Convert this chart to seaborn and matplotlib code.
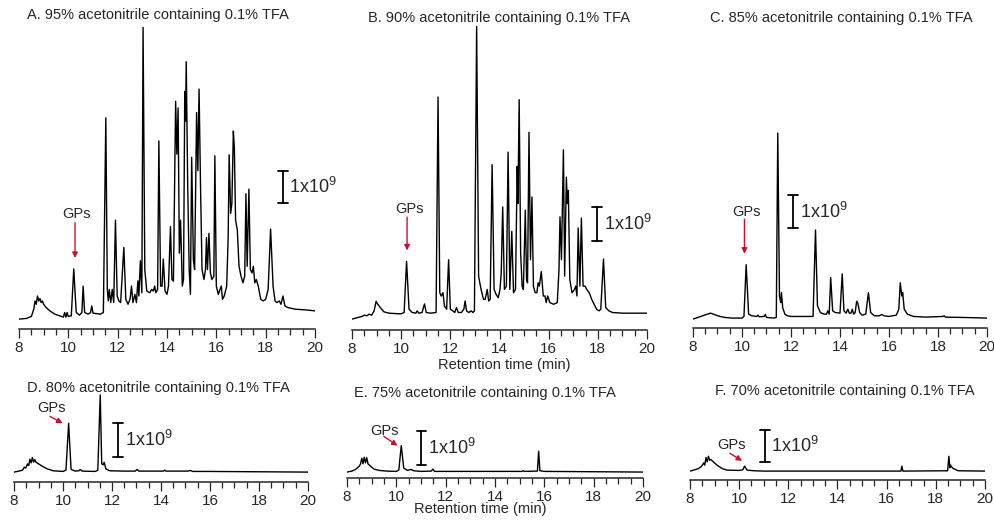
import numpy as np
import pandas as pd
import matplotlib
matplotlib.use("Agg")
import matplotlib.pyplot as plt
from matplotlib.ticker import MultipleLocator
import seaborn as sns

# Chromatogram traces: (retention time in min, intensity in units of 1e9)
a_trace = [
    (8.0, 0.0), (8.3, 0.02), (8.5, 0.08), (8.6, 0.3), (8.65, 0.55), (8.7, 0.45), (8.75, 0.7),
    (8.8, 0.55), (8.85, 0.62), (8.9, 0.5), (8.95, 0.55), (9.0, 0.45), (9.1, 0.35), (9.25, 0.25),
    (9.45, 0.15), (9.65, 0.1), (9.8, 0.06), (9.85, 0.2), (9.9, 0.06), (9.95, 0.2), (10.0, 0.08),
    (10.12, 0.1), (10.22, 1.52), (10.32, 0.2), (10.45, 0.12), (10.55, 0.2), (10.6, 1.0),
    (10.66, 0.2), (10.8, 0.15), (10.9, 0.2), (10.95, 0.4), (11.0, 0.18), (11.3, 0.15),
    (11.42, 0.2), (11.52, 6.1), (11.58, 0.9), (11.62, 0.55), (11.66, 0.9), (11.72, 0.5),
    (11.78, 0.9), (11.84, 0.5), (11.91, 3.0), (11.98, 0.7), (12.05, 0.55), (12.12, 0.5),
    (12.25, 2.17), (12.33, 0.6), (12.42, 0.45), (12.5, 0.6), (12.56, 1.0), (12.62, 0.5),
    (12.7, 0.75), (12.76, 0.5), (12.82, 1.16), (12.86, 0.7), (12.92, 1.77), (12.98, 0.8),
    (13.03, 8.84), (13.1, 1.5), (13.18, 0.85), (13.3, 0.8), (13.38, 0.9), (13.45, 0.85),
    (13.5, 1.0), (13.55, 0.8), (13.62, 0.9), (13.67, 5.4), (13.74, 1.0), (13.8, 1.0),
    (13.85, 1.82), (13.92, 0.85), (14.0, 0.75), (14.06, 1.0), (14.14, 2.8), (14.2, 1.2),
    (14.26, 1.15), (14.35, 6.6), (14.4, 5.0), (14.45, 6.4), (14.5, 2.0), (14.55, 3.0),
    (14.62, 1.0), (14.67, 1.2), (14.72, 6.9), (14.75, 6.0), (14.78, 7.8), (14.84, 4.0),
    (14.9, 1.5), (14.95, 0.75), (15.0, 4.9), (15.07, 1.8), (15.12, 1.5), (15.2, 6.26),
    (15.25, 4.5), (15.3, 6.97), (15.36, 4.0), (15.42, 1.5), (15.5, 1.2), (15.56, 1.5),
    (15.6, 2.47), (15.64, 1.5), (15.7, 2.6), (15.76, 1.4), (15.82, 1.2), (15.9, 1.3),
    (15.94, 4.95), (16.0, 1.0), (16.08, 0.75), (16.15, 0.9), (16.2, 1.0), (16.25, 0.6),
    (16.32, 0.7), (16.42, 1.0), (16.48, 2.5), (16.52, 4.98), (16.58, 3.2), (16.63, 3.5),
    (16.69, 5.7), (16.73, 5.2), (16.78, 3.0), (16.85, 2.7), (16.92, 1.6), (17.0, 1.3),
    (17.08, 1.1), (17.15, 1.3), (17.2, 3.8), (17.25, 1.6), (17.32, 3.94), (17.38, 1.5),
    (17.45, 1.4), (17.5, 1.6), (17.56, 1.1), (17.62, 1.2), (17.7, 1.0), (17.8, 0.6),
    (17.9, 0.55), (18.0, 0.6), (18.1, 0.9), (18.2, 2.73), (18.3, 1.0), (18.38, 0.55),
    (18.45, 0.5), (18.55, 0.55), (18.62, 0.45), (18.7, 0.7), (18.78, 0.4), (18.9, 0.35),
    (19.2, 0.3), (19.6, 0.28), (20.0, 0.25),
]

b_trace = [
    (8.0, 0.0), (8.2, 0.04), (8.4, 0.08), (8.5, 0.12), (8.6, 0.1), (8.7, 0.15), (8.8, 0.12),
    (8.9, 0.25), (8.98, 0.54), (9.05, 0.45), (9.15, 0.35), (9.3, 0.22), (9.5, 0.18), (9.7, 0.17),
    (10.0, 0.16), (10.12, 0.2), (10.22, 1.75), (10.32, 0.3), (10.45, 0.2), (10.6, 0.18),
    (10.65, 0.25), (10.72, 0.18), (10.85, 0.2), (10.95, 0.46), (11.02, 0.2), (11.2, 0.18),
    (11.42, 0.2), (11.5, 6.73), (11.57, 0.8), (11.63, 0.7), (11.7, 0.8), (11.76, 0.4),
    (11.85, 0.3), (11.93, 1.8), (12.0, 0.3), (12.1, 0.25), (12.18, 0.2), (12.25, 0.35),
    (12.32, 0.2), (12.45, 0.2), (12.55, 0.3), (12.6, 0.55), (12.66, 0.25), (12.75, 0.2),
    (12.85, 0.25), (12.92, 0.2), (12.98, 0.25), (13.07, 8.87), (13.15, 1.3), (13.25, 0.9),
    (13.35, 0.6), (13.42, 0.6), (13.5, 0.9), (13.56, 0.55), (13.62, 0.6), (13.7, 4.68),
    (13.78, 0.9), (13.86, 0.75), (13.95, 0.65), (14.02, 0.9), (14.07, 1.4), (14.13, 3.4),
    (14.2, 0.9), (14.28, 1.0), (14.35, 5.06), (14.42, 0.9), (14.5, 2.66), (14.57, 0.8),
    (14.65, 0.9), (14.72, 4.63), (14.75, 3.5), (14.8, 6.65), (14.86, 2.0), (14.92, 1.0),
    (14.97, 0.9), (15.05, 3.3), (15.1, 1.2), (15.14, 1.1), (15.2, 5.66), (15.26, 1.8),
    (15.32, 3.7), (15.38, 1.0), (15.45, 0.8), (15.52, 0.8), (15.57, 1.1), (15.62, 1.0),
    (15.7, 1.44), (15.78, 0.7), (15.85, 0.7), (15.9, 0.5), (15.96, 0.7), (16.05, 0.5),
    (16.2, 0.45), (16.35, 0.5), (16.42, 1.5), (16.46, 3.1), (16.52, 1.8), (16.6, 5.13),
    (16.65, 1.3), (16.72, 4.3), (16.76, 3.5), (16.8, 3.9), (16.86, 1.2), (16.95, 0.8),
    (17.05, 0.9), (17.1, 1.0), (17.15, 0.7), (17.2, 2.76), (17.27, 1.0), (17.33, 3.06),
    (17.4, 1.0), (17.48, 1.0), (17.55, 0.9), (17.65, 0.8), (17.75, 0.6), (17.85, 0.45),
    (17.95, 0.3), (18.05, 0.25), (18.12, 0.3), (18.23, 1.82), (18.32, 0.35), (18.45, 0.25),
    (18.6, 0.2), (19.0, 0.18), (19.5, 0.18), (20.0, 0.18),
]

c_trace = [
    (8.0, 0.0), (8.2, 0.05), (8.4, 0.1), (8.5, 0.13), (8.6, 0.15), (8.7, 0.18), (8.8, 0.16),
    (8.9, 0.13), (9.1, 0.08), (9.3, 0.05), (9.6, 0.03), (10.0, 0.03), (10.08, 0.08),
    (10.17, 1.65), (10.27, 0.15), (10.4, 0.1), (10.6, 0.08), (10.65, 0.12), (10.7, 0.07),
    (10.9, 0.08), (10.95, 0.14), (11.0, 0.05), (11.3, 0.03), (11.4, 0.05), (11.46, 5.64),
    (11.53, 0.7), (11.58, 0.5), (11.61, 0.8), (11.66, 0.35), (11.75, 0.15), (11.85, 0.1),
    (12.0, 0.08), (12.5, 0.08), (12.9, 0.08), (13.0, 2.7), (13.08, 0.4), (13.2, 0.2),
    (13.35, 0.15), (13.45, 0.15), (13.5, 0.25), (13.56, 0.15), (13.62, 1.26), (13.7, 0.25),
    (13.8, 0.2), (14.0, 0.18), (14.09, 1.37), (14.16, 0.25), (14.25, 0.18), (14.32, 0.3),
    (14.38, 0.18), (14.45, 0.18), (14.5, 0.3), (14.56, 0.15), (14.62, 0.2), (14.68, 0.54),
    (14.73, 0.48), (14.8, 0.2), (14.9, 0.12), (15.05, 0.15), (15.16, 0.8), (15.25, 0.2),
    (15.4, 0.1), (15.6, 0.1), (15.7, 0.14), (15.8, 0.1), (16.0, 0.08), (16.3, 0.12),
    (16.4, 0.3), (16.46, 1.1), (16.52, 0.7), (16.56, 0.8), (16.62, 0.3), (16.75, 0.15),
    (17.0, 0.08), (17.5, 0.06), (18.2, 0.08), (18.25, 0.1), (18.3, 0.06), (19.0, 0.05),
    (20.0, 0.03),
]

d_trace = [
    (8.0, 0.0), (8.2, 0.03), (8.35, 0.06), (8.42, 0.15), (8.48, 0.12), (8.55, 0.25), (8.6, 0.2),
    (8.65, 0.39), (8.7, 0.28), (8.75, 0.44), (8.8, 0.3), (8.85, 0.38), (8.9, 0.3), (9.0, 0.25),
    (9.15, 0.18), (9.35, 0.1), (9.6, 0.04), (10.0, 0.02), (10.12, 0.06), (10.23, 1.48),
    (10.33, 0.08), (10.5, 0.03), (10.65, 0.04), (10.7, 0.08), (10.78, 0.03), (11.3, 0.02),
    (11.42, 0.05), (11.52, 2.34), (11.58, 0.25), (11.64, 0.22), (11.68, 0.3), (11.75, 0.1),
    (11.9, 0.04), (12.5, 0.03), (12.95, 0.03), (13.02, 0.08), (13.1, 0.03), (14.1, 0.03),
    (14.15, 0.06), (14.2, 0.03), (15.1, 0.03), (15.18, 0.05), (15.3, 0.02), (16.0, 0.02),
    (20.0, 0.0),
]

e_trace = [
    (8.0, 0.0), (8.2, 0.03), (8.35, 0.08), (8.45, 0.15), (8.5, 0.18), (8.55, 0.25), (8.6, 0.42),
    (8.65, 0.25), (8.7, 0.45), (8.75, 0.28), (8.8, 0.44), (8.85, 0.25), (8.95, 0.18),
    (9.1, 0.09), (9.3, 0.05), (9.6, 0.03), (10.0, 0.02), (10.1, 0.06), (10.2, 0.8),
    (10.3, 0.12), (10.45, 0.05), (10.6, 0.08), (10.7, 0.04), (11.0, 0.02), (11.42, 0.03),
    (11.48, 0.09), (11.55, 0.02), (13.0, 0.02), (15.1, 0.02), (15.14, 0.04), (15.2, 0.02),
    (15.72, 0.03), (15.77, 0.63), (15.82, 0.04), (16.0, 0.02), (20.0, 0.0),
]

f_trace = [
    (8.0, 0.0), (8.2, 0.04), (8.35, 0.08), (8.45, 0.13), (8.52, 0.2), (8.56, 0.25), (8.6, 0.18),
    (8.65, 0.41), (8.7, 0.28), (8.75, 0.45), (8.8, 0.33), (8.85, 0.35), (8.95, 0.28),
    (9.1, 0.18), (9.3, 0.08), (9.5, 0.03), (10.0, 0.02), (10.15, 0.04), (10.22, 0.15),
    (10.32, 0.03), (10.6, 0.01), (11.0, 0.0), (16.58, 0.0), (16.62, 0.15), (16.66, 0.0),
    (18.48, 0.01), (18.53, 0.45), (18.57, 0.1), (18.6, 0.18), (18.65, 0.12), (18.7, 0.08),
    (18.8, 0.05), (18.9, 0.01), (20.0, 0.0),
]

titles = [
    "A. 95% acetonitrile containing 0.1% TFA",
    "B. 90% acetonitrile containing 0.1% TFA",
    "C. 85% acetonitrile containing 0.1% TFA",
    "D. 80% acetonitrile containing 0.1% TFA",
    "E. 75% acetonitrile containing 0.1% TFA",
    "F. 70% acetonitrile containing 0.1% TFA",
]
traces = [a_trace, b_trace, c_trace, d_trace, e_trace, f_trace]

sns.set_style("ticks")
plt.rcParams['font.family'] = ['Liberation Sans', 'DejaVu Sans']
plt.rcParams['mathtext.default'] = 'regular'

W, H = 995, 521
PX_PER_UNIT = 33
RED = "#c8102e"

fig = plt.figure(figsize=(W / 100, H / 100), dpi=100)

# panel placement in pixels: left, right, spine y, top y, y-min, title x (axes frac), title y
layout = [
    (19, 315, 329, 25, -0.30, 0.468, 15),
    (352, 647, 330, 25, -0.33, 0.500, 18),
    (693, 987, 328, 25, -0.27, 0.505, 18),
    (14, 308, 482, 392, -0.30, 0.490, 388),
    (347, 643, 478, 392, -0.18, 0.466, 393),
    (690, 985, 480, 392, -0.27, 0.524, 391),
]
# 1x10^9 scale bars: x, bottom, top
scale_bars = [
    (18.69, 3.52, 4.49), (17.97, 2.38, 3.39), (12.08, 2.76, 3.76),
    (12.25, 0.45, 1.48), (11.02, 0.22, 1.23), (11.04, 0.28, 1.26),
]
# GPs labels: text x, text y, arrow start x, y, arrow tip x, y
gp_marks = [
    (10.34, 3.17, 10.27, 2.92, 10.27, 1.85),
    (10.35, 3.34, 10.24, 3.09, 10.24, 2.08),
    (10.20, 3.26, 10.10, 3.03, 10.10, 1.98),
    (9.54, 1.94, 9.47, 1.69, 9.98, 1.48),
    (9.54, 1.23, 9.49, 1.08, 10.05, 0.80),
    (9.68, 0.79, 9.62, 0.54, 10.12, 0.31),
]

for i, (trace, title) in enumerate(zip(traces, titles)):
    left, right, spine, top, ymin, tx, ty = layout[i]
    h_px = spine - top
    ax = fig.add_axes([left / W, 1 - spine / H, (right - left) / W, h_px / H])
    df = pd.DataFrame(trace, columns=["time", "signal"])
    sns.lineplot(data=df, x="time", y="signal", ax=ax, color="black",
                 linewidth=1.0, estimator=None, sort=False)
    ax.set_xlim(8, 20)
    ax.set_ylim(ymin, ymin + h_px / PX_PER_UNIT)
    for s in ["left", "top", "right"]:
        ax.spines[s].set_visible(False)
    ax.spines["bottom"].set_linewidth(1.1)
    ax.set_yticks([])
    ax.set_xticks(np.arange(8, 21, 2))
    ax.xaxis.set_minor_locator(MultipleLocator(0.5))
    ax.tick_params(axis="x", which="major", length=6.5, width=0.9, labelsize=11, pad=2)
    ax.tick_params(axis="x", which="minor", length=4, width=0.9)
    ax.set_ylabel("")
    ax.set_xlabel("")

    ax.text(tx, 1 + (top - ty) / h_px, title, transform=ax.transAxes,
            ha="center", va="center", fontsize=10.5)

    bx, by0, by1 = scale_bars[i]
    ax.plot([bx, bx], [by0, by1], color="black", lw=1.3)
    ax.plot([bx - 0.2, bx + 0.2], [by0, by0], color="black", lw=1.3)
    ax.plot([bx - 0.2, bx + 0.2], [by1, by1], color="black", lw=1.3)
    ax.text(bx + 0.27, (by0 + by1) / 2, "1x10$^9$", ha="left", va="center", fontsize=13)

    gx, gy, ax0, ay0, ax1, ay1 = gp_marks[i]
    ax.text(gx, gy, "GPs", ha="center", va="center", fontsize=10.5)
    ax.annotate("", xy=(ax1, ay1), xytext=(ax0, ay0),
                arrowprops=dict(arrowstyle="-|>", color=RED, lw=1.0,
                                mutation_scale=8, shrinkA=0, shrinkB=0))

    if i == 1:
        ax.set_xlabel("Retention time (min)", fontsize=10.5)
        ax.xaxis.set_label_coords(0.515, -(358 - spine) / h_px)
    if i == 4:
        ax.set_xlabel("Retention time (min)", fontsize=10.5)
        ax.xaxis.set_label_coords(0.45, -(502 - spine) / h_px)

fig.savefig("out.png", dpi=100)
